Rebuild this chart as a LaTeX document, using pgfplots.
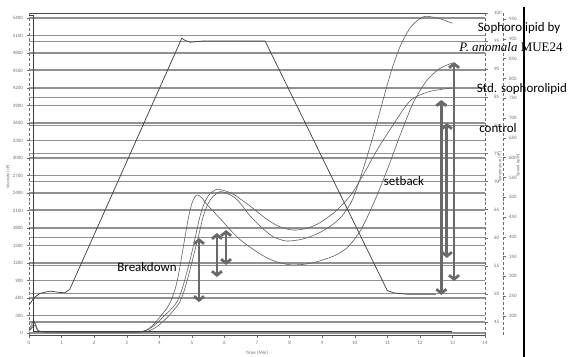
\documentclass[border=0pt]{standalone}
\usepackage{pgfplots}
\pgfplotsset{compat=1.18}
\usepackage{fontspec}
\setmainfont{Carlito}
\newfontfamily\timesfont{Liberation Serif}
\usetikzlibrary{arrows.meta}
\definecolor{gridc}{RGB}{145,145,145}
\definecolor{arrc}{RGB}{105,105,105}
\definecolor{curvc}{RGB}{95,95,95}
\definecolor{tempc}{RGB}{60,60,60}
\definecolor{tickc}{RGB}{110,110,110}
\begin{document}
\begin{tikzpicture}
\useasboundingbox (-29bp,-22bp) rectangle (544bp,335bp);
\pgfplotsset{
  base/.style={
    scale only axis, width=456bp, height=322bp,
    at={(0,0)}, anchor=south west,
    tick label style={font=\fontsize{5}{5}\selectfont, text=tickc},
    /pgf/number format/assume math mode=true,
    /pgf/number format/1000 sep={},
    tick align=outside, major tick length=2.5bp,
    tick style={tickc, line width=0.4bp},
  }
}
\begin{axis}[base,
  xmin=0, xmax=14, ymin=-34.29, ymax=5485.7,
  xtick={0,...,14}, ytick={0,300,...,5400},
  separate axis lines,
  x axis line style={black!70, line width=0.8bp},
  y axis line style={densely dashed, tickc, line width=0.5bp},
  xtick pos=bottom, ytick pos=left,
  ymajorgrids, grid style={gridc, line width=1.1bp},
  extra y ticks={187.9,669.6,1151.1,1632.8,2114.3,2596.1,3077.7,3559.5,4041.0,4522.7,5004.3},
  extra y tick labels={},
  extra y tick style={major tick length=0pt, ymajorgrids=true},
  clip=false,
]
% curve A: first peak, lowest trough, ends 4630
\addplot[curvc, line width=0.6bp, smooth, tension=0.45] coordinates {
(0,60) (0.08,150) (0.15,215) (0.22,100) (0.3,30) (0.5,18) (1,15) (2,12) (3,14) (3.4,20) (3.6,50) (3.8,130) (4.0,260) (4.2,400) (4.35,540) (4.5,780) (4.6,1030) (4.7,1350) (4.8,1680) (4.9,1990) (5.0,2220) (5.1,2340) (5.18,2365) (5.3,2320) (5.5,2180) (5.77,2020) (6.0,1880) (6.26,1720) (6.5,1590) (6.78,1474) (7.0,1390) (7.3,1290) (7.6,1220) (8.0,1170) (8.4,1175) (8.8,1215) (9.4,1330) (9.8,1480) (10.2,1780) (10.6,2250) (11.0,2800) (11.4,3400) (11.8,3950) (12.2,4320) (12.6,4530) (13,4630)
};
% curve B: top U, ends 4200
\addplot[curvc, line width=0.6bp, smooth, tension=0.45] coordinates {
(0,40) (0.1,120) (0.17,180) (0.25,60) (0.35,22) (0.6,16) (1,14) (2,12) (3,13) (3.4,18) (3.6,45) (3.8,110) (4.0,210) (4.2,320) (4.4,430) (4.55,540) (4.7,750) (4.85,1050) (5.0,1380) (5.1,1630) (5.25,2000) (5.4,2250) (5.55,2380) (5.76,2463) (6.0,2440) (6.3,2370) (6.8,2170) (7.3,1950) (7.7,1820) (8.1,1765) (8.5,1790) (8.9,1880) (9.4,2080) (9.9,2380) (10.3,2750) (10.7,3150) (11.1,3500) (11.7,3980) (12.3,4140) (13,4200)
};
% curve C: middle U, steep, peak 5430
\addplot[curvc, line width=0.6bp, smooth, tension=0.45] coordinates {
(0,30) (0.1,90) (0.2,140) (0.28,40) (0.4,20) (0.7,15) (1,13) (2,11) (3,12) (3.5,18) (3.7,40) (3.9,100) (4.1,190) (4.3,300) (4.5,430) (4.62,520) (4.75,700) (4.9,990) (5.05,1320) (5.2,1650) (5.35,2000) (5.5,2220) (5.65,2340) (5.86,2422) (6.1,2390) (6.4,2280) (6.8,2000) (7.2,1780) (7.5,1650) (7.9,1577) (8.4,1610) (8.9,1714) (9.3,1850) (9.6,2000) (9.9,2250) (10.15,2620) (10.5,3250) (10.8,3850) (11.1,4450) (11.4,4920) (11.7,5230) (12.0,5390) (12.2,5430) (12.6,5390) (13,5310)
};
% annotation arrows
\tikzset{dbl/.style={arrc, line width=2.8bp, {Straight Barb[length=4bp,width=10bp]}-{Straight Barb[length=4bp,width=10bp]}}}
\draw[dbl] (axis cs:5.22,1628) -- (axis cs:5.22,531);
\draw[dbl] (axis cs:5.77,1714) -- (axis cs:5.77,960);
\draw[dbl] (axis cs:6.05,1765) -- (axis cs:6.05,1166);
\draw[dbl] (axis cs:12.66,3994) -- (axis cs:12.66,651);
\draw[dbl] (axis cs:12.83,3600) -- (axis cs:12.83,1286);
\draw[dbl] (axis cs:13.05,4645) -- (axis cs:13.05,891);
\end{axis}
% temperature axis
\begin{axis}[base,
  xmin=0, xmax=14, ymin=42.693, ymax=100,
  hide x axis, axis y line*=right,
  ytick={45,50,...,100},
  y axis line style={densely dashed, tickc, line width=0.5bp},
  yticklabel style={xshift=3bp},
  clip=false,
]
\addplot[tempc, line width=0.7bp] coordinates {
(0,48.0) (0.15,49.3) (0.34,50.1) (0.64,50.5) (0.9,50.3) (1.1,50.2) (1.25,50.8) (4.69,95.5) (4.8,95.1) (4.95,94.8) (5.3,95.0) (7.25,95.0) (11.0,50.6) (11.2,50.2) (11.6,49.95) (12.5,49.95)
};
\end{axis}
% speed axis (box extended 18bp to the right so its axis line sits beside the temperature axis)
\begin{axis}[base, width=474bp,
  xmin=0, xmax=14.5527, ymin=152.0, ymax=965.2,
  hide x axis, axis y line*=right,
  ytick={200,250,...,950},
  y axis line style={densely dashed, tickc, line width=0.5bp},
  clip=false,
]
\addplot[tempc, line width=0.7bp] coordinates {
(0,960) (0.12,960) (0.12,160) (13,160)
};
\end{axis}
% axis titles
\node[rotate=90, font=\fontsize{4.5}{5}\selectfont, text=tickc] at (-21bp,158bp) {Viscosity (cP)};
\node[rotate=90, font=\fontsize{4.5}{5}\selectfont, text=tickc] at (471bp,168bp) {Temperature (°C)};
\node[rotate=90, font=\fontsize{4.5}{5}\selectfont, text=tickc] at (489bp,170bp) {Speed (rpm)};
\node[font=\fontsize{5}{5}\selectfont, text=tickc] at (228bp,-18bp) {Time (Min)};
\draw[black, line width=1.2bp] (495bp,328bp) -- (495bp,-22bp);
% annotations
\node[font=\fontsize{13}{15}\selectfont, text=black] at (490bp,307bp) {Sophorolipid by};
\node[font=\fontsize{13}{15}\selectfont, text=black] at (482bp,288bp) {\timesfont\itshape P. anomala\upshape{} MUE24};
\node[font=\fontsize{13}{15}\selectfont, text=black] at (493bp,246bp) {Std. sophorolipid};
\node[font=\fontsize{13}{15}\selectfont, text=black] at (469bp,207bp) {control};
\node[font=\fontsize{13}{15}\selectfont, text=black] at (375bp,154bp) {setback};
\node[font=\fontsize{13}{15}\selectfont, text=black] at (118bp,68bp) {Breakdown};
\end{tikzpicture}
\end{document}
